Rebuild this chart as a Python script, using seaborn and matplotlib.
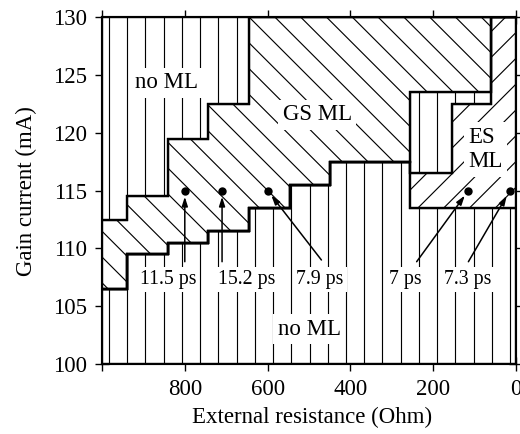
import numpy as np
import matplotlib
matplotlib.use("Agg")
import matplotlib.pyplot as plt
import seaborn as sns
from matplotlib.collections import LineCollection
from matplotlib.transforms import IdentityTransform

# ---------------- data ----------------
resistance_edges = [0, 60, 155, 255, 450, 545, 645, 745, 840, 940, 1000]
noml_low_top = [113.5, 113.5, 113.5, 117.5, 115.5, 113.5, 111.5, 110.5, 109.5, 106.5]
es_top       = [130.0, 122.5, 116.5, 117.5, 115.5, 113.5, 111.5, 110.5, 109.5, 106.5]
gs_bottom    = [130.0, 123.5, 123.5, 117.5, 115.5, 113.5, 111.5, 110.5, 109.5, 106.5]
gs_top       = [130.0, 130.0, 130.0, 130.0, 130.0, 130.0, 122.5, 119.5, 114.5, 112.5]
current_min, current_max = 100.0, 130.0

point_resistance = [800, 710, 600, 115, 15]
point_current = [115, 115, 115, 115, 115]
pulse_labels = ["11.5 ps", "15.2 ps", "7.9 ps", "7 ps", "7.3 ps"]
pulse_label_resistance = [841, 651, 473, 268, 117]
pulse_label_current = [107.35, 107.35, 107.35, 107.35, 107.35]
arrow_tail_resistance = [800, 710, 470, 240, 115]
arrow_tail_current = [108.85, 108.85, 109.0, 108.85, 108.85]

region_names = ["no ML", "GS ML", "ES\nML", "no ML"]
region_label_resistance = [843, 480, 74, 500]
region_label_current = [124.35, 121.55, 118.55, 103.0]

x_ticks = [1000, 800, 600, 400, 200, 0]
x_tick_labels = ["", "800", "600", "400", "200", "0"]
y_ticks = [100, 105, 110, 115, 120, 125, 130]

# ---------------- style ----------------
sns.set_theme(style="ticks", rc={
    "axes.edgecolor": "black", "xtick.color": "black", "ytick.color": "black",
    "text.color": "black", "axes.labelcolor": "black",
})
plt.rcParams["font.family"] = ["Liberation Serif", "DejaVu Serif"]

DPI = 110
W, H = 520, 434
fig = plt.figure(figsize=(W / DPI, H / DPI), dpi=DPI)
fig.patch.set_facecolor("white")
ax = fig.add_axes([102 / W, 70 / H, 414 / W, 346.7 / H])
ax.set_facecolor("white")


def hatch_segments(kind):
    segs = []
    if kind == "vertical":
        for k in range(-8, 30):
            x = 109 + 18.23 * k
            segs.append([(x, -10), (x, H + 10)])
    elif kind == "gs":  # '\' lines in image coordinates: y_img = x + c
        for k in range(-10, 31):
            c = -309.4 + 25.8 * k
            x1, x2 = -60, W + 60
            segs.append([(x1, H - (x1 + c)), (x2, H - (x2 + c))])
    else:  # '/' lines: y_img = -x + c
        for k in range(-29, 12):
            c = 703.3 + 25.8 * k
            x1, x2 = -60, W + 60
            segs.append([(x1, H - (c - x1)), (x2, H - (c - x2))])
    return segs


top_line = [current_max] * len(gs_top)
bottom_line = [current_min] * len(gs_top)
layers = [
    (bottom_line, noml_low_top, "vertical"),
    (noml_low_top, es_top, "es"),
    (es_top, gs_bottom, "vertical"),
    (gs_bottom, gs_top, "gs"),
    (gs_top, top_line, "vertical"),
]

for lower, upper, kind in layers:
    patch = ax.stairs(np.array(upper), np.array(resistance_edges, dtype=float),
                      baseline=np.array(lower), fill=True, facecolor="white",
                      edgecolor="black", linewidth=1.4, zorder=1)
    lc = LineCollection(hatch_segments(kind), colors="black", linewidths=0.75,
                        transform=IdentityTransform(), zorder=1.1)
    ax.add_collection(lc, autolim=False)
    lc.set_clip_path(patch)

# outline on top of hatching
for lower, upper, kind in layers:
    ax.stairs(np.array(upper), np.array(resistance_edges, dtype=float),
              baseline=np.array(lower), fill=False, edgecolor="black",
              linewidth=1.4, zorder=1.2)

sns.scatterplot(x=point_resistance, y=point_current, color="black", s=30,
                linewidth=0, zorder=6, ax=ax, legend=False)

for lab, lx, ly, tx, ty, px, py in zip(pulse_labels, pulse_label_resistance,
                                       pulse_label_current, arrow_tail_resistance,
                                       arrow_tail_current, point_resistance, point_current):
    ax.annotate("", xy=(px, py), xytext=(tx, ty),
                arrowprops=dict(arrowstyle="-|>,head_length=0.5,head_width=0.16",
                                color="black", lw=1.0, shrinkA=0, shrinkB=4,
                                mutation_scale=10), zorder=4)
    ax.text(lx, ly, lab, ha="center", va="center", fontsize=13, zorder=5,
            bbox=dict(facecolor="white", edgecolor="none", pad=2))

for name, rx, ry in zip(region_names, region_label_resistance, region_label_current):
    ax.text(rx, ry, name, ha="center", va="center", fontsize=15, zorder=5,
            multialignment="left", linespacing=1.2,
            bbox=dict(facecolor="white", edgecolor="none", pad=3))

ax.set_xlim(1000, 0)
ax.set_ylim(current_min, current_max)
ax.set_xticks(x_ticks)
ax.set_xticklabels(x_tick_labels)
ax.set_yticks(y_ticks)
ax.tick_params(direction="inout", length=9, width=0.9, top=True, right=True,
               labelsize=15, pad=5)
for sp in ax.spines.values():
    sp.set_linewidth(1.4)
    sp.set_color("black")
    sp.set_zorder(7)

ax.set_xlabel("External resistance (Ohm)", fontsize=15)
ax.set_ylabel("Gain current (mA)", fontsize=15)
ax.xaxis.set_label_coords(0.508, -0.125)
ax.yaxis.set_label_coords(-0.156, 0.5)

fig.savefig("out.png", dpi=DPI, facecolor="white")
